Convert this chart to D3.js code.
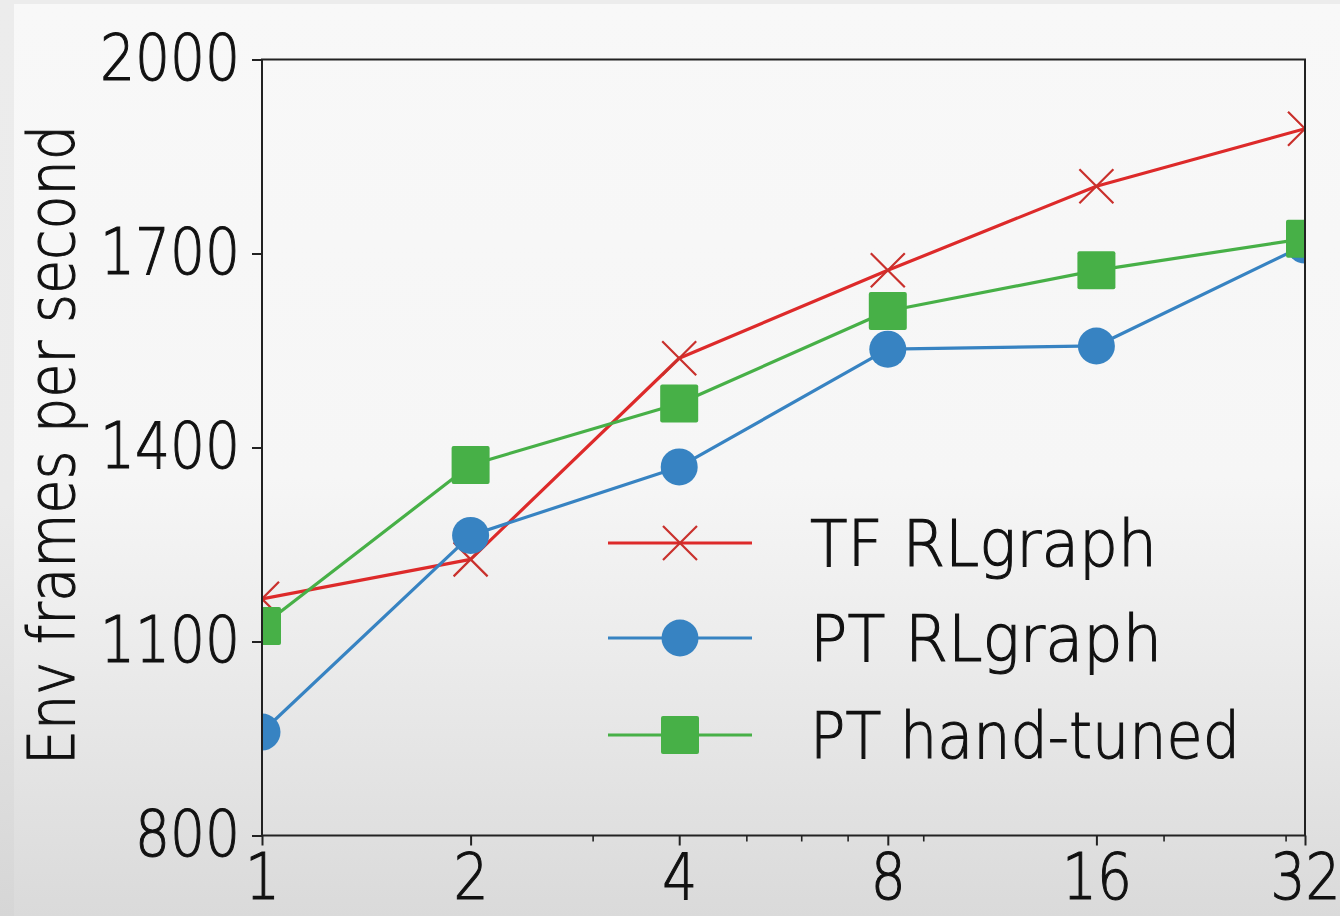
<!DOCTYPE html>
<html><head><meta charset="utf-8">
<script src="https://cdn.jsdelivr.net/npm/d3@7"></script>
<style>body{margin:0;overflow:hidden;background:#fff} svg{display:block}</style>
</head><body>
<svg id="c" width="1340" height="916"></svg>
<script>
const xValues = [1, 2, 4, 8, 16, 32];
const tfRLgraph = [1166, 1227, 1538, 1674, 1804, 1893];
const ptRLgraph = [960, 1264, 1370, 1552, 1557, 1713];
const ptHandTuned = [1124, 1373, 1468, 1611, 1674, 1723];
const seriesNames = ["TF RLgraph", "PT RLgraph", "PT hand-tuned"];
const xTickValues = [1, 2, 4, 8, 16, 32];
const xMinorTickValues = [3, 5, 6, 7, 9, 20, 30];
const yTickValues = [800, 1100, 1400, 1700, 2000];
const yTitle = "Env frames per second";

const W = 1340, H = 916;
const L = 262, R = 1305, T = 59.5, B = 835.5;
const FONT = "'DejaVu Sans', sans-serif";
const FW = 300;
const svg = d3.select("#c");
const defs = svg.append("defs");

const g1 = defs.append("linearGradient").attr("id","bgOuter").attr("x1",0).attr("y1",0).attr("x2",0).attr("y2",1);
[[0,"#ececec"],[0.55,"#ebebeb"],[1,"#d6d6d6"]].forEach(s=>g1.append("stop").attr("offset",s[0]).attr("stop-color",s[1]));
const g2 = defs.append("linearGradient").attr("id","bgInner").attr("x1",0).attr("y1",0).attr("x2",0).attr("y2",1);
[[0,"#f8f8f8"],[0.52,"#f6f6f6"],[0.7,"#ececec"],[1,"#dadada"]].forEach(s=>g2.append("stop").attr("offset",s[0]).attr("stop-color",s[1]));
svg.append("rect").attr("width",W).attr("height",H).attr("fill","url(#bgOuter)");
svg.append("rect").attr("x",14).attr("y",4).attr("width",W-14).attr("height",H-4).attr("fill","url(#bgInner)");

defs.append("clipPath").attr("id","plotClip").append("rect")
  .attr("x",L).attr("y",T).attr("width",R-L).attr("height",B-T);

const x = d3.scaleLog().base(2).domain([1,32]).range([L,R]);
const y = d3.scaleLinear().domain([800,2000]).range([B,T]);

const series = [
  {name: seriesNames[0], values: tfRLgraph, color:"#dd2a2a", mcolor:"#c9302c", marker:"x"},
  {name: seriesNames[1], values: ptRLgraph, color:"#3783c2", mcolor:"#3783c2", marker:"circle"},
  {name: seriesNames[2], values: ptHandTuned, color:"#47b047", mcolor:"#47b047", marker:"square"}
];

function styleText(sel) {
  sel.attr("font-family",FONT).attr("font-weight",FW).attr("font-size",64)
    .attr("fill","#111").attr("stroke","#111").attr("stroke-width",1.1);
}
function squeeze(sel, factor) {
  sel.each(function(){
    const n = this.getComputedTextLength();
    d3.select(this).attr("textLength", n*factor).attr("lengthAdjust","spacingAndGlyphs");
  });
}
function fitTo(sel, len) {
  sel.attr("textLength", len).attr("lengthAdjust","spacingAndGlyphs");
}

function drawMarker(g, type, cx, cy, s) {
  if (type === "x") {
    const h = 17;
    g.append("path").attr("d",`M${cx-h},${cy-h}L${cx+h},${cy+h}M${cx-h},${cy+h}L${cx+h},${cy-h}`)
      .attr("stroke", s.mcolor).attr("stroke-width",2.2).attr("fill","none");
  } else if (type === "circle") {
    g.append("circle").attr("cx",cx).attr("cy",cy).attr("r",18.5).attr("fill",s.mcolor);
  } else {
    g.append("rect").attr("x",cx-19).attr("y",cy-19).attr("width",38).attr("height",38).attr("rx",2).attr("fill",s.mcolor);
  }
}

const plot = svg.append("g").attr("clip-path","url(#plotClip)");
const line = d3.line().x((d,i)=>x(xValues[i])).y(d=>y(d));
series.forEach(s=>{
  plot.append("path").datum(s.values).attr("d",line).attr("fill","none")
    .attr("stroke",s.color).attr("stroke-width",3.2).attr("stroke-linejoin","round");
});
series.forEach(s=>{
  s.values.forEach((v,i)=>drawMarker(plot, s.marker, x(xValues[i]), y(v), s));
});

// Frame
svg.append("rect").attr("x",L).attr("y",T).attr("width",R-L).attr("height",B-T)
  .attr("fill","none").attr("stroke","#222").attr("stroke-width",2);

// Axes
const xAxis = d3.axisBottom(x).tickValues(xTickValues).tickFormat(d=>String(d)).tickSize(10).tickPadding(8);
const gx = svg.append("g").attr("transform",`translate(0,${B})`).call(xAxis);
gx.select(".domain").remove();
gx.selectAll(".tick line").attr("stroke","#222").attr("stroke-width",2);
styleText(gx.selectAll(".tick text"));
squeeze(gx.selectAll(".tick text"), 0.86);

const xAxisMinor = d3.axisBottom(x).tickValues(xMinorTickValues).tickFormat("").tickSize(6);
const gxm = svg.append("g").attr("transform",`translate(0,${B})`).call(xAxisMinor);
gxm.select(".domain").remove();
gxm.selectAll(".tick line").attr("stroke","#222").attr("stroke-width",1.6);

const yAxis = d3.axisLeft(y).tickValues(yTickValues).tickFormat(d=>String(d)).tickSize(10).tickPadding(12);
const gy = svg.append("g").attr("transform",`translate(${L},0)`).call(yAxis);
gy.select(".domain").remove();
gy.selectAll(".tick line").attr("stroke","#222").attr("stroke-width",2);
styleText(gy.selectAll(".tick text"));
squeeze(gy.selectAll(".tick text"), 0.86);

const title = svg.append("text").attr("transform","translate(51,445) rotate(-90)")
  .attr("text-anchor","middle").attr("dy","0.36em").text(yTitle);
styleText(title);
fitTo(title, 640);

// Legend
const legendRows = [543, 638, 735];
const legendTextLen = [347, 352, 430];
series.forEach((s,i)=>{
  const g = svg.append("g");
  const ly = legendRows[i];
  g.append("line").attr("x1",608).attr("x2",752).attr("y1",ly).attr("y2",ly)
    .attr("stroke",s.color).attr("stroke-width",3.2);
  drawMarker(g, s.marker, 680, ly, s);
  const t = g.append("text").attr("x",810).attr("y",ly).attr("dy","0.36em").text(s.name);
  styleText(t);
  fitTo(t, legendTextLen[i]);
});
</script>
</body></html>
